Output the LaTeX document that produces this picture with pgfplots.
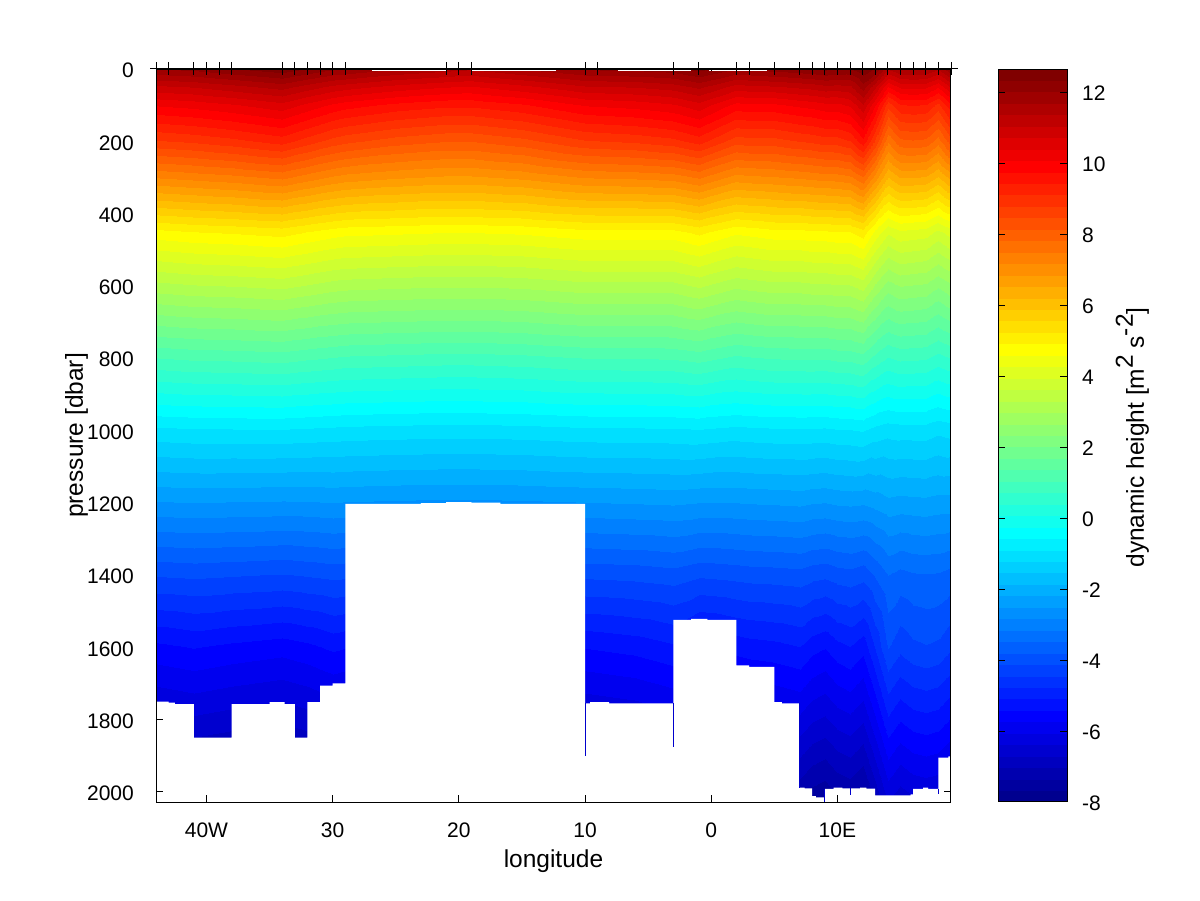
\documentclass[border=0pt]{standalone}
\usepackage{fontspec}
\setmainfont{Liberation Sans}
\usepackage{pgfplots}
\pgfplotsset{compat=1.18}
\pgfplotsset{colormap={mj}{rgb(0)=(0,0,0.5625) rgb(7)=(0,0,1) rgb(23)=(0,1,1) rgb(39)=(1,1,0) rgb(55)=(1,0,0) rgb(63)=(0.5,0,0)}}
\pgfplotstableread[row sep=\\]{x y z\\
-44 0 12.0\\-41 0 12.1\\-38 0 12.3\\-34 0 12.55\\-32 0 12.3\\-30 0 12.05\\-29 0 12.0\\-25 0 11.7\\-21 0 11.5\\-19 0 11.4\\-15 0 11.7\\-10 0 12.05\\-6 0 12.1\\-3 0 12.2\\-1 0 12.45\\2 0 12.0\\3 0 12.05\\5 0 12.15\\7 0 12.25\\8 0 12.3\\9 0 12.4\\10 0 12.35\\11 0 12.3\\12 0 12.6\\13 0 12.3\\14 0 11.4\\15 0 11.7\\16 0 11.75\\17 0 11.7\\18 0 11.4\\19 0 12.0\\
-44 50 10.95\\-41 50 11.05\\-38 50 11.23\\-34 50 11.48\\-32 50 11.2\\-30 50 10.93\\-29 50 10.85\\-25 50 10.58\\-21 50 10.4\\-19 50 10.35\\-15 50 10.6\\-10 50 10.98\\-6 50 11.05\\-3 50 11.18\\-1 50 11.43\\2 50 10.88\\3 50 10.93\\5 50 10.98\\7 50 11.1\\8 50 11.15\\9 50 11.25\\10 50 11.23\\11 50 11.28\\12 50 11.85\\13 50 11.1\\14 50 10.05\\15 50 10.45\\16 50 10.5\\17 50 10.45\\18 50 10.1\\19 50 10.75\\
-44 100 10.1\\-41 100 10.2\\-38 100 10.35\\-34 100 10.6\\-32 100 10.3\\-30 100 10.0\\-29 100 9.9\\-25 100 9.65\\-21 100 9.5\\-19 100 9.5\\-15 100 9.7\\-10 100 10.1\\-6 100 10.2\\-3 100 10.35\\-1 100 10.6\\2 100 9.95\\3 100 10.0\\5 100 10.0\\7 100 10.15\\8 100 10.2\\9 100 10.3\\10 100 10.3\\11 100 10.45\\12 100 11.0\\13 100 10.1\\14 100 8.9\\15 100 9.4\\16 100 9.45\\17 100 9.4\\18 100 9.0\\19 100 9.7\\
-44 200 8.75\\-41 200 8.85\\-38 200 9.0\\-34 200 9.25\\-32 200 8.95\\-30 200 8.65\\-29 200 8.55\\-25 200 8.3\\-21 200 8.15\\-19 200 8.15\\-15 200 8.35\\-10 200 8.75\\-6 200 8.85\\-3 200 9.0\\-1 200 9.25\\2 200 8.6\\3 200 8.65\\5 200 8.65\\7 200 8.8\\8 200 8.85\\9 200 8.95\\10 200 8.95\\11 200 9.1\\12 200 9.65\\13 200 8.75\\14 200 7.55\\15 200 8.05\\16 200 8.1\\17 200 8.05\\18 200 7.65\\19 200 8.35\\
-44 300 7.2\\-41 300 7.3\\-38 300 7.4\\-34 300 7.58\\-32 300 7.35\\-30 300 7.13\\-29 300 7.05\\-25 300 6.9\\-21 300 6.8\\-19 300 6.8\\-15 300 6.93\\-10 300 7.2\\-6 300 7.25\\-3 300 7.33\\-1 300 7.55\\2 300 7.05\\3 300 7.1\\5 300 7.15\\7 300 7.23\\8 300 7.28\\9 300 7.33\\10 300 7.35\\11 300 7.43\\12 300 7.8\\13 300 7.05\\14 300 6.2\\15 300 6.55\\16 300 6.55\\17 300 6.5\\18 300 6.18\\19 300 6.65\\
-44 450 4.8\\-41 450 4.9\\-38 450 4.95\\-34 450 5.05\\-32 450 4.9\\-30 450 4.75\\-29 450 4.7\\-25 450 4.65\\-21 450 4.6\\-19 450 4.6\\-15 450 4.65\\-10 450 4.8\\-6 450 4.8\\-3 450 4.8\\-1 450 5.0\\2 450 4.65\\3 450 4.7\\5 450 4.8\\7 450 4.8\\8 450 4.85\\9 450 4.85\\10 450 4.9\\11 450 4.9\\12 450 5.1\\13 450 4.5\\14 450 4.0\\15 450 4.2\\16 450 4.15\\17 450 4.1\\18 450 3.85\\19 450 4.1\\
-44 600 3.17\\-41 600 3.26\\-38 600 3.3\\-34 600 3.38\\-32 600 3.26\\-30 600 3.13\\-29 600 3.09\\-25 600 3.04\\-21 600 3.0\\-19 600 3.0\\-15 600 3.04\\-10 600 3.17\\-6 600 3.17\\-3 600 3.17\\-1 600 3.34\\2 600 3.04\\3 600 3.09\\5 600 3.17\\7 600 3.17\\8 600 3.21\\9 600 3.21\\10 600 3.26\\11 600 3.26\\12 600 3.43\\13 600 2.92\\14 600 2.49\\15 600 2.66\\16 600 2.62\\17 600 2.58\\18 600 2.36\\19 600 2.58\\
-44 800 1.03\\-41 800 1.1\\-38 800 1.12\\-34 800 1.17\\-32 800 1.09\\-30 800 1.02\\-29 800 0.98\\-25 800 0.94\\-21 800 0.9\\-19 800 0.9\\-15 800 0.94\\-10 800 1.04\\-6 800 1.05\\-3 800 1.07\\-1 800 1.16\\2 800 0.96\\3 800 1.0\\5 800 1.06\\7 800 1.07\\8 800 1.08\\9 800 1.07\\10 800 1.12\\11 800 1.13\\12 800 1.23\\13 800 0.93\\14 800 0.69\\15 800 0.79\\16 800 0.77\\17 800 0.75\\18 800 0.59\\19 800 0.72\\
-44 1000 -0.98\\-41 1000 -0.94\\-38 1000 -0.93\\-34 1000 -0.92\\-32 1000 -0.95\\-30 1000 -0.98\\-29 1000 -1.0\\-25 1000 -1.03\\-21 1000 -1.05\\-19 1000 -1.05\\-15 1000 -1.03\\-10 1000 -0.97\\-6 1000 -0.96\\-3 1000 -0.95\\-1 1000 -0.92\\2 1000 -1.0\\3 1000 -0.98\\5 1000 -0.95\\7 1000 -0.94\\8 1000 -0.95\\9 1000 -0.96\\10 1000 -0.92\\11 1000 -0.91\\12 1000 -0.87\\13 1000 -1.0\\14 1000 -1.08\\15 1000 -1.05\\16 1000 -1.05\\17 1000 -1.05\\18 1000 -1.14\\19 1000 -1.08\\
-44 1200 -2.55\\-41 1200 -2.52\\-38 1200 -2.54\\-34 1200 -2.56\\-32 1200 -2.55\\-30 1200 -2.52\\-29 1200 -2.54\\-25 1200 -2.57\\-21 1200 -2.59\\-19 1200 -2.59\\-15 1200 -2.57\\-10 1200 -2.53\\-6 1200 -2.5\\-3 1200 -2.47\\-1 1200 -2.52\\2 1200 -2.52\\3 1200 -2.5\\5 1200 -2.48\\7 1200 -2.45\\8 1200 -2.5\\9 1200 -2.52\\10 1200 -2.47\\11 1200 -2.45\\12 1200 -2.48\\13 1200 -2.4\\14 1200 -2.29\\15 1200 -2.33\\16 1200 -2.3\\17 1200 -2.29\\18 1200 -2.33\\19 1200 -2.35\\
-44 1400 -4.1\\-41 1400 -4.06\\-38 1400 -4.1\\-34 1400 -4.15\\-32 1400 -4.1\\-30 1400 -4.04\\-29 1400 -4.06\\-25 1400 -4.1\\-21 1400 -4.13\\-19 1400 -4.13\\-15 1400 -4.1\\-10 1400 -4.06\\-6 1400 -4.02\\-3 1400 -3.95\\-1 1400 -4.08\\2 1400 -4.02\\3 1400 -3.99\\5 1400 -3.97\\7 1400 -3.93\\8 1400 -4.02\\9 1400 -4.06\\10 1400 -3.97\\11 1400 -3.93\\12 1400 -4.02\\13 1400 -3.77\\14 1400 -3.48\\15 1400 -3.59\\16 1400 -3.52\\17 1400 -3.5\\18 1400 -3.52\\19 1400 -3.61\\
-44 1600 -5.5\\-41 1600 -5.4\\-38 1600 -5.5\\-34 1600 -5.6\\-32 1600 -5.5\\-30 1600 -5.35\\-29 1600 -5.4\\-25 1600 -5.5\\-21 1600 -5.55\\-19 1600 -5.55\\-15 1600 -5.5\\-10 1600 -5.4\\-6 1600 -5.3\\-3 1600 -5.15\\-1 1600 -5.45\\2 1600 -5.3\\3 1600 -5.25\\5 1600 -5.2\\7 1600 -5.1\\8 1600 -5.3\\9 1600 -5.4\\10 1600 -5.2\\11 1600 -5.1\\12 1600 -5.3\\13 1600 -4.75\\14 1600 -4.1\\15 1600 -4.35\\16 1600 -4.2\\17 1600 -4.15\\18 1600 -4.2\\19 1600 -4.4\\
-44 1800 -6.55\\-41 1800 -6.45\\-38 1800 -6.55\\-34 1800 -6.65\\-32 1800 -6.55\\-30 1800 -6.4\\-29 1800 -6.45\\-25 1800 -6.55\\-21 1800 -6.6\\-19 1800 -6.6\\-15 1800 -6.55\\-10 1800 -6.45\\-6 1800 -6.35\\-3 1800 -6.2\\-1 1800 -6.5\\2 1800 -6.35\\3 1800 -6.3\\5 1800 -6.25\\7 1800 -6.15\\8 1800 -6.35\\9 1800 -6.45\\10 1800 -6.25\\11 1800 -6.15\\12 1800 -6.35\\13 1800 -5.8\\14 1800 -5.15\\15 1800 -5.4\\16 1800 -5.25\\17 1800 -5.2\\18 1800 -5.25\\19 1800 -5.45\\
-44 2050 -7.9\\-41 2050 -7.8\\-38 2050 -7.9\\-34 2050 -8.0\\-32 2050 -7.9\\-30 2050 -7.75\\-29 2050 -7.8\\-25 2050 -7.9\\-21 2050 -7.95\\-19 2050 -7.95\\-15 2050 -7.9\\-10 2050 -7.8\\-6 2050 -7.7\\-3 2050 -7.55\\-1 2050 -7.85\\2 2050 -7.7\\3 2050 -7.65\\5 2050 -7.6\\7 2050 -7.5\\8 2050 -7.7\\9 2050 -7.8\\10 2050 -7.6\\11 2050 -7.5\\12 2050 -7.7\\13 2050 -7.15\\14 2050 -6.5\\15 2050 -6.75\\16 2050 -6.6\\17 2050 -6.55\\18 2050 -6.6\\19 2050 -6.8\\
}\sectiondata
\definecolor{deepb}{rgb}{0,0,0.8}
\begin{document}
\fontsize{21}{26}\selectfont
\begin{tikzpicture}
\path[use as bounding box] (0,0) rectangle (1200pt,901pt);
\begin{axis}[name=main, at={(156pt,99pt)}, anchor=south west, scale only axis,
  width=795pt, height=733pt,
  view={0}{90}, xmin=-44, xmax=19, ymin=0, ymax=2028, y dir=reverse,
  colormap name=mj, point meta min=-8, point meta max=12.65,
  axis on top, axis line style={line width=1pt,black},
  major tick length=0pt,
  xtick={-40,-30,-20,-10,0,10}, xticklabels={40W,30,20,10,0,10E},
  ytick={0,200,400,600,800,1000,1200,1400,1600,1800,2000},
  yticklabels={0,200,400,600,800,1000,1200,1400,1600,1800,2000},
  ztick=\empty, tick label style={font=\fontsize{21}{26}\selectfont},
  xticklabel pos=bottom, yticklabel pos=left,
  xticklabel style={yshift=-14pt}, yticklabel style={xshift=-15pt,yshift=-1.5pt},
  xlabel={longitude}, ylabel={pressure [dbar]},
  label style={font=\fontsize{24.5}{29}\selectfont},
  xlabel style={yshift=3pt}, ylabel style={yshift=-15pt},
  clip=true]
\addplot3[contour filled={number=64}, mesh/rows=14, mesh/cols=31] table {\sectiondata};
% bathymetry (no data)
\addplot[fill=white, draw=none] coordinates {
(-44,2040)(-44,1750)(-43,1750)(-43,1753)(-42.5,1753)(-42.5,1757)(-41,1757)(-41,1850)(-38,1850)(-38,1757)(-35,1757)(-35,1752)(-33.8,1752)(-33.8,1757)(-33,1757)(-33,1850)(-32,1850)(-32,1752)(-31,1752)(-31,1706)(-30,1706)(-30,1700)(-29,1700)(-29,1203)(-23,1203)(-23,1201)(-21,1201)(-21,1198)(-19,1198)(-19,1200)(-16.7,1200)(-16.7,1203)(-10,1203)(-10,1755)(-9.6,1755)(-9.6,1752)(-8.1,1752)(-8.1,1755)(-3,1755)(-3,1524)(-1.6,1524)(-1.6,1521)(-0.3,1521)(-0.3,1524)(2,1524)(2,1650)(3,1650)(3,1654)(5,1654)(5,1752)(5.6,1752)(5.6,1755)(7,1755)(7,1988)(7.4,1988)(7.4,1990)(8,1990)(8,2012)(8.3,2012)(8.3,2015)(9,2015)(9,1992)(9.7,1992)(9.7,1988)(10.4,1988)(10.4,1990)(11.8,1990)(11.8,1988)(12.3,1988)(12.3,1991)(13,1991)(13,2010)(15.8,2010)(15.8,2007)(16,2007)(16,1992)(16.8,1992)(16.8,1988)(17.2,1988)(17.2,1992)(18,1992)(18,1905)(18.8,1905)(18.8,1902)(19,1902)(19,2040)} --cycle;
% thin white strips just below the surface
\addplot[fill=white, draw=none] coordinates {(-26.9,-5)(-21,-5)(-21,6)(-26.9,6)} --cycle;
\addplot[fill=white, draw=none] coordinates {(-19,-5)(-12.3,-5)(-12.3,6)(-19,6)} --cycle;
\addplot[fill=white, draw=none] coordinates {(-7.4,-5)(-1.6,-5)(-1.6,6)(-7.4,6)} --cycle;
\addplot[fill=white, draw=none] coordinates {(-0.2,-5)(4.4,-5)(4.4,6)(-0.2,6)} --cycle;
% thin one-station columns
\addplot[deepb, line width=1pt] coordinates {(-10,1755)(-10,1900)};
\addplot[deepb, line width=1pt] coordinates {(-3,1755)(-3,1875)};
\addplot[deepb, line width=1pt] coordinates {(7,1755)(7,1988)};
\addplot[deepb, line width=1pt] coordinates {(9,1992)(9,2028)};
\addplot[deepb, line width=1pt] coordinates {(11,1990)(11,2010)};
\addplot[deepb, line width=1pt] coordinates {(18,1992)(18,2005)};
% axis ticks that the coloured field does not cover
\addplot[black, line width=1pt] coordinates {(-40,2028)(-40,2009)};
\addplot[black, line width=1pt] coordinates {(-30,2028)(-30,2009)};
\addplot[black, line width=1pt] coordinates {(-20,2028)(-20,2009)};
\addplot[black, line width=1pt] coordinates {(-10,2028)(-10,2009)};
\addplot[black, line width=1pt] coordinates {(0,2028)(0,2009)};
\addplot[black, line width=1pt] coordinates {(10,2028)(10,2009)};
\addplot[black, line width=1pt] coordinates {(-44,1800)(-43.45,1800)};
\addplot[black, line width=1pt] coordinates {(-44,2000)(-43.45,2000)};
\addplot[black, line width=1pt] coordinates {(19,2000)(18.45,2000)};
\addplot[black, line width=1pt] coordinates {(0,0)(0,6)};
\end{axis}
% station ticks along the top
\begin{axis}[at={(156pt,99pt)}, anchor=south west, scale only axis,
  width=795pt, height=733pt, xmin=-44, xmax=19, ymin=0, ymax=2028, y dir=reverse,
  axis x line=top, axis y line=none, axis line style={line width=1pt,-},
  xtick={-44,-43,-41,-40,-39,-38,-34,-33,-32,-31,-30,-29,-21,-20,-19,-10,-9,-3,-1,2,3,5,7,8,9,10,11,12,13,14,15,16,17,18,19},
  xticklabels={}, tick align=center, major tick length=13pt,
  tick style={line width=1pt,black}, ytick=\empty, clip=false]
\addplot[black, line width=1pt] coordinates {(-44.45,0)(19.55,0)};
\end{axis}
% colour bar
\begin{axis}[at={(998pt,99pt)}, anchor=south west, scale only axis,
  width=69pt, height=733pt, view={0}{90},
  xmin=0, xmax=1, ymin=-8, ymax=12.65,
  colormap name=mj, point meta min=-8, point meta max=12.65,
  axis on top, axis line style={line width=1pt,black},
  xtick=\empty, ztick=\empty,
  ytick={-8,-6,-4,-2,0,2,4,6,8,10,12},
  yticklabels={-8,-6,-4,-2,0,2,4,6,8,10,12},
  yticklabel pos=right, tick align=inside, major tick length=7pt,
  tick style={line width=1pt,black},
  tick label style={font=\fontsize{21}{26}\selectfont},
  yticklabel style={xshift=8pt,yshift=-1.5pt},
  ylabel={dynamic height [m\raisebox{0.45em}{2} s\raisebox{0.45em}{-2}]},
  label style={font=\fontsize{24.5}{29}\selectfont},
  ylabel style={yshift=4pt,xshift=-2pt}]
\addplot3[contour filled={number=64}, mesh/rows=2, mesh/cols=2] table[row sep=\\] {x y z\\
0 -8 -8\\1 -8 -8\\0 12.65 12.65\\1 12.65 12.65\\};
\end{axis}
\end{tikzpicture}
\end{document}
